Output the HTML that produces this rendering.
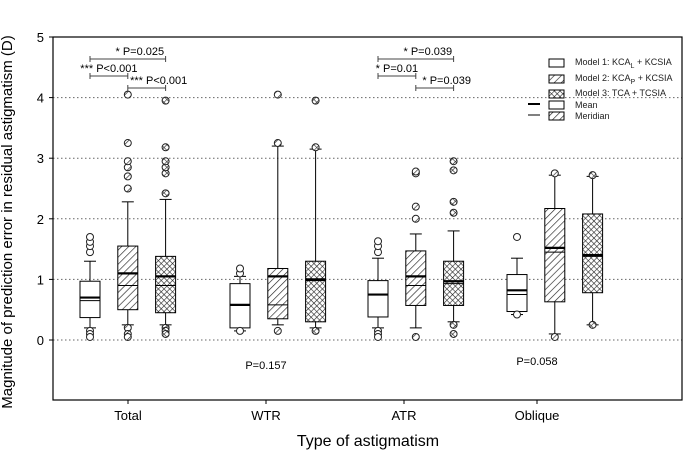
<!DOCTYPE html>
<html><head><meta charset="utf-8"><style>
body{margin:0;background:#fff}
svg{display:block;font-family:"Liberation Sans",Arial,sans-serif}
</style></head><body>
<svg id="c" width="694" height="463">
<defs>
<pattern id="hatch" patternUnits="userSpaceOnUse" width="5" height="5" patternTransform="rotate(45)"><rect width="5" height="5" fill="#fff"/><line x1="0" y1="0" x2="0" y2="5" stroke="#222" stroke-width="1.3"/></pattern>
<pattern id="cross" patternUnits="userSpaceOnUse" width="4" height="4" patternTransform="rotate(45)"><rect width="4" height="4" fill="#fff"/><line x1="0" y1="0" x2="0" y2="4" stroke="#222" stroke-width="1.2"/><line x1="0" y1="0" x2="4" y2="0" stroke="#222" stroke-width="1.2"/></pattern>
</defs>
<g id="grid"></g>
<rect x="53" y="37" width="629" height="363" fill="none" stroke="#000" stroke-width="1.2"/>
<g id="marks"></g>
<text x="10" y="220" transform="rotate(-90 12 220)" text-anchor="middle" font-size="15">Magnitude of prediction error in residual astigmatism (D)</text>
<text x="368" y="446" text-anchor="middle" font-size="16">Type of astigmatism</text>
<text x="266" y="369" text-anchor="middle" font-size="11">P=0.157</text>
<text x="537" y="365" text-anchor="middle" font-size="11">P=0.058</text>
<g font-size="9" fill="#222">
<rect x="549" y="59" width="15" height="8" fill="#fff" stroke="#000"/><text x="575" y="65">Model 1: KCA<tspan font-size="7" dy="3">L</tspan><tspan dy="-3"> + KCSIA</tspan></text>
<rect x="549" y="75" width="15" height="8" fill="url(#hatch)" stroke="#000"/><text x="575" y="81">Model 2: KCA<tspan font-size="7" dy="3">P</tspan><tspan dy="-3"> +  KCSIA</tspan></text>
<rect x="549" y="90" width="15" height="8" fill="url(#cross)" stroke="#000"/><text x="575" y="96">Model 3: TCA + TCSIA</text>
<line x1="528" y1="104" x2="540" y2="104" stroke="#000" stroke-width="2"/><rect x="549" y="101" width="15" height="8" fill="#fff" stroke="#000"/><text x="575" y="108">Mean</text>
<line x1="528" y1="115" x2="540" y2="115" stroke="#000" stroke-width="1"/><rect x="549" y="112" width="15" height="8" fill="url(#hatch)" stroke="#000"/><text x="575" y="119">Meridian</text>
</g>
<g id="brk" font-size="11"></g>
</svg>
<script>
const categories=["Total","WTR","ATR","Oblique"];
const models=["m1","m2","m3"];
const q1=[[0.37,0.5,0.45],[0.2,0.35,0.3],[0.38,0.57,0.57],[0.47,0.63,0.78]];
const q3=[[0.97,1.55,1.38],[0.93,1.18,1.3],[0.98,1.47,1.3],[1.08,2.17,2.08]];
const means=[[0.7,1.1,1.05],[0.58,1.05,1.0],[0.75,1.05,0.97],[0.82,1.52,1.4]];
const medians=[[0.65,0.9,0.9],[0.58,0.58,0.98],[0.75,0.9,0.93],[0.75,1.45,1.38]];
const wlo=[[0.2,0.25,0.25],[0.15,0.25,0.2],[0.2,0.2,0.3],[0.42,0.1,0.25]];
const whi=[[1.3,2.28,2.32],[1.05,3.2,3.15],[1.35,1.75,1.8],[1.35,2.72,2.7]];
const outliers=[[[1.45,1.55,1.62,1.7,0.15,0.1,0.05],[2.5,2.7,2.85,2.95,3.25,4.05,0.2,0.1,0.05],[2.42,2.75,2.85,2.95,3.18,3.95,0.2,0.15,0.1]],
[[1.1,1.18,0.15],[3.25,4.05,0.15],[3.18,3.95,0.15]],
[[1.45,1.55,1.63,0.15,0.1,0.05],[2.0,2.2,2.75,2.78,0.05],[2.1,2.28,2.8,2.95,0.25,0.1]],
[[1.7,0.42],[2.75,0.05],[2.72,0.25]]];
const yTicks=[0,1,2,3,4,5];
const tickPos=[128,266,404,537];
const fills=["#fff","url(#hatch)","url(#cross)"];
const y=v=>340-v*60.6;
const bx=(c,m)=>[90,240,378,517][c]+m*37.8;
const NS="http://www.w3.org/2000/svg";
function el(t,a,p){const e=document.createElementNS(NS,t);for(const k in a)e.setAttribute(k,a[k]);p.appendChild(e);return e;}
const g=document.getElementById('grid'),mk=document.getElementById('marks');
yTicks.forEach(t=>{
 const l=el('line',{x1:53,x2:682,y1:y(t),y2:y(t),stroke:'#666','stroke-dasharray':'1.5,2.5'},g);
 
 
 el('line',{x1:49,x2:53,y1:y(t),y2:y(t),stroke:'#000'},g);
 const tx=el('text',{x:44,y:y(t)+5,'text-anchor':'end','font-size':13},g);tx.textContent=t;
 
 
});
categories.forEach((c,i)=>{
 el('line',{x1:tickPos[i],x2:tickPos[i],y1:400,y2:404,stroke:'#000'},g);
 const tx=el('text',{x:tickPos[i],y:420,'text-anchor':'middle','font-size':13},g);tx.textContent=c;
 
 
 models.forEach((m,j)=>{
  const cx=bx(i,j),w=20;
  const grp=el('g',{},mk);
  
  
  el('line',{x1:cx,x2:cx,y1:y(whi[i][j]),y2:y(wlo[i][j]),stroke:'#000'},grp);
  [whi[i][j],wlo[i][j]].forEach(v=>el('line',{x1:cx-6,x2:cx+6,y1:y(v),y2:y(v),stroke:'#000'},grp));
  el('rect',{x:cx-w/2,y:y(q3[i][j]),width:w,height:y(q1[i][j])-y(q3[i][j]),fill:fills[j],stroke:'#000'},grp);
  el('line',{x1:cx-w/2,x2:cx+w/2,y1:y(medians[i][j]),y2:y(medians[i][j]),stroke:'#000','stroke-width':1},grp);
  el('line',{x1:cx-w/2,x2:cx+w/2,y1:y(means[i][j]),y2:y(means[i][j]),stroke:'#000','stroke-width':2.2},grp);
  outliers[i][j].forEach(v=>{const o=el('circle',{cx:cx,cy:y(v),r:3.5,fill:j==0?'#fff':fills[j],stroke:'#222'},grp);
   
   });
 });
});
const b=document.getElementById('brk');
const brackets=[[0,0,2,"* P=0.025",59],[0,0,1,"*** P<0.001",76],[0,1,2,"*** P<0.001",88],[2,0,2,"* P=0.039",59],[2,0,1,"* P=0.01",76],[2,1,2,"* P=0.039",88]];
brackets.forEach(([c,a,z,t,yy])=>{
 const x1=bx(c,a),x2=bx(c,z);
 const gg=el('g',{},b);
 
 
 el('line',{x1:x1,x2:x2,y1:yy,y2:yy,stroke:'#444'},gg);
 el('line',{x1:x1,x2:x1,y1:yy-3,y2:yy+3,stroke:'#444'},gg);
 el('line',{x1:x2,x2:x2,y1:yy-3,y2:yy+3,stroke:'#444'},gg);
 const tx=el('text',{x:(x1+x2)/2+(z-a==2?12:(a==1?12:0)),y:yy-4,'text-anchor':'middle'},gg);tx.textContent=t;
});
</script>
</body></html>
